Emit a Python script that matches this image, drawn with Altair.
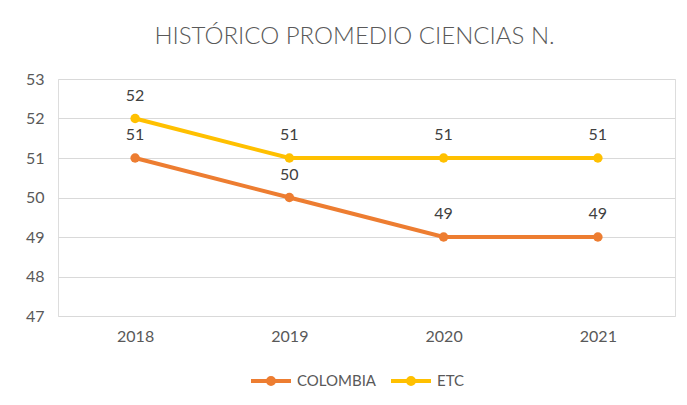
import altair as alt
import pandas as pd

years = ["2018", "2019", "2020", "2021"]
colombia = [51, 50, 49, 49]
etc = [52, 51, 51, 51]
series = ["COLOMBIA", "ETC"]
colors = ["#ED7D31", "#FFC000"]

rows = []
for i, y in enumerate(years):
    rows.append({"year": y, "serie": "COLOMBIA", "value": colombia[i]})
    rows.append({"year": y, "serie": "ETC", "value": etc[i]})
df = pd.DataFrame(rows)

FONT = "Lato"
GRAY = "#595959"

legend_symbol = (
    "M-1,0L1,0"
    "M0.15,0A0.15,0.15,0,1,1,-0.15,0A0.15,0.15,0,1,1,0.15,0Z"
    "M0.05,0A0.05,0.05,0,1,1,-0.05,0A0.05,0.05,0,1,1,0.05,0Z"
)

base = alt.Chart(df).encode(
    x=alt.X("year:N", sort=years, title=None,
            axis=alt.Axis(labelAngle=0, domain=False, ticks=False, grid=False,
                          labelFontSize=16, labelColor=GRAY, labelFont=FONT,
                          labelPadding=12)),
    y=alt.Y("value:Q", title=None,
            scale=alt.Scale(domain=[47, 53], nice=False, zero=False),
            axis=alt.Axis(values=[47, 48, 49, 50, 51, 52, 53], domain=False, ticks=False,
                          gridColor="#D9D9D9", gridWidth=1,
                          labelFontSize=16, labelColor=GRAY, labelFont=FONT,
                          labelPadding=14)),
)

lines = base.mark_line(strokeWidth=4, point=alt.OverlayMarkDef(size=90, filled=True)).encode(
    color=alt.Color("serie:N", sort=series,
                    scale=alt.Scale(domain=series, range=colors),
                    legend=alt.Legend(title=None, orient="none", direction="horizontal",
                                      legendX=191, legendY=280, padding=0,
                                      symbolType=legend_symbol, symbolSize=1600,
                                      symbolStrokeWidth=4, labelFontSize=15,
                                      labelColor=GRAY, labelFont=FONT, labelOffset=4,
                                      columnPadding=6)),
)

labels = base.mark_text(dy=-23, fontSize=16, font=FONT, color="#404040").encode(
    text=alt.Text("value:Q"),
    detail="serie:N",
)

chart = alt.layer(lines, labels).properties(
    width=617, height=237,
    title=alt.TitleParams("HISTÓRICO PROMEDIO CIENCIAS N.", font=FONT, fontSize=24,
                          fontWeight=300, color=GRAY, anchor="middle", dx=-12,
                          offset=22),
    autosize=alt.AutoSizeParams(type="none"),
    padding={"left": 50, "top": 71, "right": 4, "bottom": 81},
).configure_view(stroke=None).configure(background="white")

chart.save("out.html", embed_options={"renderer": "svg", "actions": False})
